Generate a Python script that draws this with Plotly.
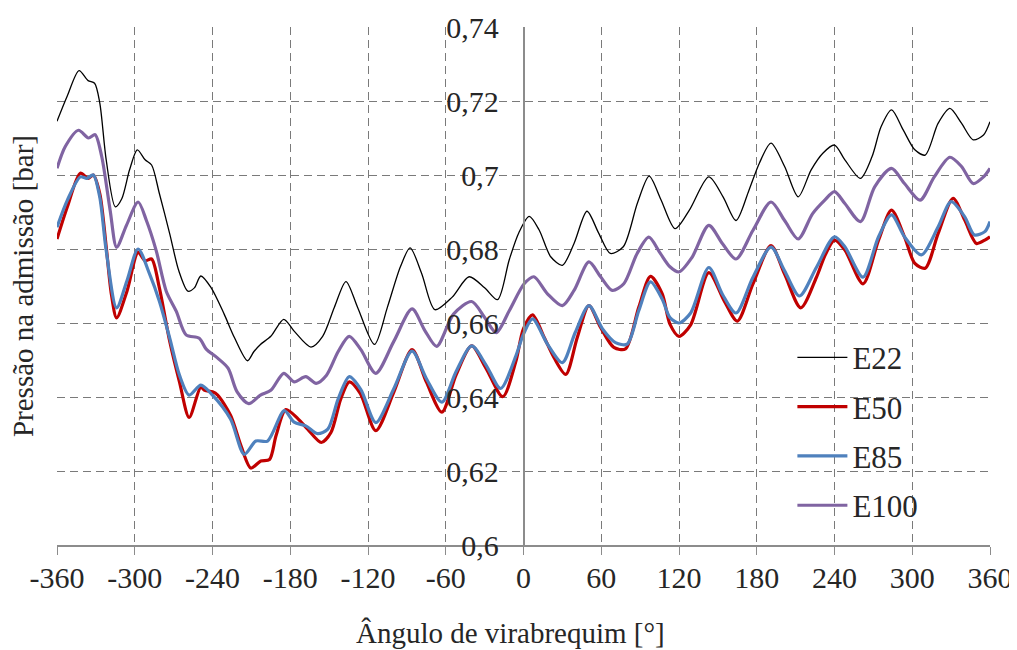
import plotly.graph_objects as go

# ---------------- data ----------------
x_ticks = [-360, -300, -240, -180, -120, -60, 0, 60, 120, 180, 240, 300, 360]
x_tick_labels = ["-360", "-300", "-240", "-180", "-120", "-60", "0", "60", "120", "180", "240", "300", "360"]
y_ticks = [0.60, 0.62, 0.64, 0.66, 0.68, 0.70, 0.72, 0.74]
y_tick_labels = ["0,6", "0,62", "0,64", "0,66", "0,68", "0,7", "0,72", "0,74"]

e22_x = [-360, -352, -343, -336, -331, -327, -322, -315, -310, -304, -298, -292, -287, -281, -273, -266,
         -259, -254, -249, -241, -231, -223, -213, -208, -203, -195, -185, -177, -164, -155, -146, -137,
         -128, -115, -105, -95, -87.5, -78.6, -68.4, -55, -42, -30, -20, -11, -3.6, 4.4, 12, 21, 30, 39,
         49, 58, 67, 77, 88, 97, 106, 117, 128, 143, 154, 164, 174, 182, 191, 201.5, 212, 222, 231, 240,
         248, 260, 269, 276, 284, 293, 302, 310, 320, 329, 338, 347, 355, 360]
e22_y = [0.7145, 0.7214, 0.7282, 0.7255, 0.7248, 0.7195, 0.704, 0.6914, 0.6936, 0.7014, 0.7068, 0.7041,
         0.7027, 0.695, 0.6841, 0.6741, 0.6686, 0.6695, 0.6727, 0.6695, 0.6624, 0.656, 0.6498, 0.6523,
         0.6542, 0.6564, 0.661, 0.6578, 0.6535, 0.6564, 0.6642, 0.6712, 0.6642, 0.6542, 0.6643, 0.6752,
         0.6803, 0.6734, 0.6636, 0.667, 0.6725, 0.6695, 0.6663, 0.6771, 0.6844, 0.6888, 0.6852, 0.6779,
         0.6756, 0.6815, 0.6902, 0.6843, 0.6788, 0.6806, 0.6925, 0.6997, 0.6934, 0.6855, 0.6905, 0.6995,
         0.6941, 0.6877, 0.6959, 0.7032, 0.7086, 0.7023, 0.6941, 0.7014, 0.7059, 0.7081, 0.7041, 0.6991,
         0.705, 0.7131, 0.7176, 0.7122, 0.7068, 0.7054, 0.714, 0.718, 0.714, 0.7095, 0.7108, 0.7144]

e50_x = [-360, -352, -342, -336, -332, -327, -322, -318, -314, -306, -297.4, -292, -287, -281, -273,
         -265.5, -258, -249, -246, -240, -236, -226, -218, -210.4, -202.7, -196, -191, -183.4, -174,
         -166.6, -156, -148.6, -141, -134.4, -126, -114, -100, -86, -75, -63, -52, -40, -29, -16, -6, 0,
         7, 16, 23.6, 32.6, 41.5, 50.5, 59.5, 69.7, 78.7, 89, 98, 107, 113, 120, 129, 143, 155, 165, 177,
         191, 201.5, 214, 226, 233, 240, 248, 262, 274, 284, 294, 302, 310, 320, 331.5, 340.5, 349.5, 356,
         360]
e50_y = [0.6827, 0.6914, 0.7005, 0.6991, 0.7, 0.695, 0.6805, 0.6677, 0.6614, 0.6686, 0.6791, 0.6768,
         0.6773, 0.6695, 0.655, 0.6441, 0.6345, 0.6427, 0.6418, 0.6414, 0.6405, 0.635, 0.6268, 0.6208,
         0.6227, 0.6231, 0.6295, 0.6366, 0.6341, 0.6313, 0.6277, 0.6304, 0.6395, 0.6441, 0.641, 0.6309,
         0.6414, 0.6528, 0.6441, 0.6359, 0.646, 0.6538, 0.6478, 0.6401, 0.6495, 0.6585, 0.6622, 0.6561,
         0.6506, 0.6461, 0.6561, 0.6647, 0.6588, 0.6534, 0.653, 0.6643, 0.6726, 0.6679, 0.6597, 0.6564,
         0.6595, 0.6736, 0.6659, 0.6605, 0.6705, 0.6809, 0.6732, 0.6641, 0.6723, 0.6785, 0.6824, 0.6797,
         0.6706, 0.6824, 0.6905, 0.6833, 0.6761, 0.6748, 0.6842, 0.6937, 0.6878, 0.6815, 0.6824, 0.6833]

e85_x = [-360, -352, -342, -337, -332, -327, -322, -314, -306, -297.4, -288.5, -281, -273, -265.5, -258,
         -249, -240, -226, -215.5, -206.5, -197.5, -184.6, -177, -168, -159, -151, -143, -134.4, -125.5,
         -114, -100, -86, -75, -63, -52, -40, -29, -17.6, -6, 0, 7, 18.5, 30, 40, 50.5, 61, 71, 80, 89,
         98, 107, 113, 120, 129, 143, 153.6, 164, 177, 191, 201.5, 213, 226, 240, 248, 262, 274, 284, 294,
         307, 320, 330, 340.5, 348, 356, 360]
e85_y = [0.6859, 0.6932, 0.6995, 0.6991, 0.7, 0.694, 0.6795, 0.6641, 0.6714, 0.68, 0.6732, 0.6659,
         0.6559, 0.6459, 0.6405, 0.6432, 0.6405, 0.634, 0.6245, 0.6281, 0.6281, 0.6363, 0.6332, 0.6322,
         0.6301, 0.6313, 0.6395, 0.6455, 0.642, 0.6331, 0.6423, 0.6524, 0.645, 0.6386, 0.6469, 0.6538,
         0.6487, 0.6423, 0.651, 0.657, 0.6611, 0.6543, 0.6493, 0.6575, 0.6647, 0.6584, 0.6547, 0.6543,
         0.6634, 0.6711, 0.6665, 0.6615, 0.66, 0.6627, 0.675, 0.6677, 0.6627, 0.6723, 0.6805, 0.6741,
         0.6673, 0.675, 0.6833, 0.6806, 0.6724, 0.6833, 0.6892, 0.6833, 0.6784, 0.686, 0.6928, 0.6887,
         0.6838, 0.6847, 0.6874]

e100_x = [-360, -353.6, -343.4, -335.7, -330.6, -325.5, -319, -314, -306.4, -297.4, -291, -283.4, -275.7,
          -268, -260.4, -250.2, -245, -236, -228, -221, -212, -203, -195, -185, -177, -168, -160, -152,
          -143, -134.5, -125.5, -114, -100, -86, -76, -67, -54, -40, -30, -21, -11, 0.5, 8, 18.5, 30, 39,
          50.5, 59.5, 68.5, 77.4, 87.7, 96.7, 105.6, 113, 120, 130, 143, 153.6, 164, 177, 191, 201.5, 212,
          223, 232.5, 240, 248, 260, 271, 284, 294, 306, 317, 329, 338, 347, 355, 360]
e100_y = [0.7018, 0.7077, 0.7121, 0.71, 0.7109, 0.705, 0.6905, 0.6805, 0.6864, 0.6927, 0.6877, 0.6795,
          0.6686, 0.6632, 0.6568, 0.6559, 0.653, 0.6505, 0.6478, 0.6414, 0.6382, 0.6405, 0.6418, 0.6464,
          0.6441, 0.6455, 0.6437, 0.6459, 0.6523, 0.6564, 0.6528, 0.6464, 0.6551, 0.6638, 0.6579, 0.6537,
          0.6624, 0.6658, 0.6615, 0.6574, 0.6633, 0.6706, 0.6725, 0.6679, 0.6647, 0.6688, 0.6765, 0.6725,
          0.6688, 0.6706, 0.6788, 0.6832, 0.6788, 0.6752, 0.6738, 0.6777, 0.6864, 0.6814, 0.6773, 0.685,
          0.6927, 0.6877, 0.6827, 0.6895, 0.6932, 0.6955, 0.6923, 0.6874, 0.6968, 0.7018, 0.6977, 0.6932,
          0.6995, 0.7048, 0.7023, 0.6977, 0.6995, 0.7018]

series_names = ["E22", "E50", "E85", "E100"]
series_x = [e22_x, e50_x, e85_x, e100_x]
series_y = [e22_y, e50_y, e85_y, e100_y]
series_colors = ["#000000", "#C00000", "#4F81BD", "#8064A2"]
series_widths = [1.3, 3.2, 3.2, 3.2]

FONT = "Liberation Serif"
TXT = "#262626"
GRID = "#7a7a7a"
AXIS = "#8c8c8c"

fig = go.Figure()
for name, xs, ys, col, w in zip(series_names, series_x, series_y, series_colors, series_widths):
    fig.add_trace(go.Scatter(x=xs, y=ys, name=name, mode="lines", legendgroup=name,
                             line=dict(color=col, width=w, shape="spline", smoothing=0.8)))

# white panel behind legend (covers grid like the reference legend box)
fig.add_shape(type="rect", xref="paper", yref="paper", x0=0.739, x1=0.968, y0=0.02, y1=0.42,
              fillcolor="white", line=dict(width=0), layer="between")

# the page body has an 8px margin, so the figure is sized to end at the window edge
fig.update_layout(
    width=1009, height=642,
    margin=dict(l=49, r=27, t=19, b=104.5, autoexpand=False),
    plot_bgcolor="white", paper_bgcolor="white",
    font=dict(family=FONT, color=TXT, size=30),
    showlegend=True,
    legend=dict(x=0.7882, y=0.4137, xanchor="left", yanchor="top", bgcolor="rgba(0,0,0,0)",
                font=dict(family=FONT, size=31, color=TXT), tracegroupgap=6, itemwidth=50),
    annotations=[
        dict(text="Pressão na admissão [bar]", xref="paper", yref="paper", x=-0.0364, y=0.5,
             textangle=-90, showarrow=False, font=dict(family=FONT, size=29, color=TXT),
             xanchor="center", yanchor="middle"),
        dict(text="Ângulo de virabrequim [°]", xref="paper", yref="paper", x=0.4856, y=-0.169,
             showarrow=False, font=dict(family=FONT, size=29, color=TXT),
             xanchor="center", yanchor="middle"),
    ],
)

fig.update_xaxes(range=[-360, 360], tickvals=x_ticks, ticktext=x_tick_labels, automargin=False,
                 showgrid=True, gridcolor=GRID, griddash="8px,5px", gridwidth=1,
                 showline=True, linecolor=AXIS, linewidth=1.5, ticks="outside", ticklen=8,
                 tickcolor=AXIS, zeroline=False, tickfont=dict(size=30, color=TXT), ticklabelstandoff=-3)
fig.update_yaxes(range=[0.6, 0.74], tickvals=y_ticks, ticktext=y_tick_labels, automargin=False,
                 showgrid=True, gridcolor=GRID, griddash="8px,5px", gridwidth=1,
                 anchor="free", position=0.5, showline=True, linecolor=AXIS, linewidth=1.5,
                 ticks="", zeroline=False, tickfont=dict(size=30, color=TXT), ticklabelstandoff=18)

fig.write_html("out.html")
